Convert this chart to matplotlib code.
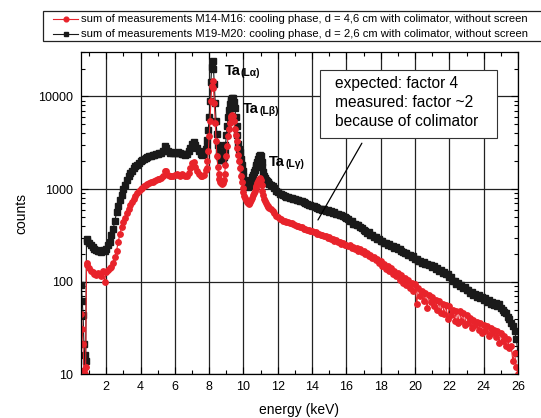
import numpy as np
import matplotlib
matplotlib.use("Agg")
import matplotlib.pyplot as plt
from matplotlib.ticker import MultipleLocator, LogLocator, FuncFormatter, NullFormatter
from matplotlib.patches import Rectangle
from matplotlib.lines import Line2D

plt.rcParams["font.family"] = ["Liberation Sans", "DejaVu Sans"]

# energy grid (keV): coarse channels, finer around the Ta L lines
energy = np.concatenate([
    np.linspace(0.55, 0.85, 7),
    np.linspace(0.9, 7.8, 70),
    np.linspace(7.85, 11.5, 74),
    np.linspace(11.6, 26.0, 145),
])

# M19-M20, d = 2,6 cm (black)
counts_m19 = [
    92, 62, 44, 21, 16, 14, 290,
    # 0.9 - 7.8
    275, 262, 250, 238, 228, 220, 212, 215, 208, 218,
    212, 228, 250, 270, 320, 370, 450, 560, 650, 760,
    870, 990, 1120, 1250, 1370, 1480, 1580, 1680, 1760, 1840,
    1920, 1990, 2060, 2110, 2160, 2210, 2250, 2290, 2320, 2360,
    2380, 2420, 2450, 2480, 2600, 2900, 2750, 2550, 2480, 2500,
    2470, 2450, 2480, 2500, 2460, 2420, 2380, 2350, 2400, 2550,
    2800, 3100, 3250, 3000, 2750, 2550, 2420, 2350, 2400, 2700,
    # 7.85 - 11.5
    2900, 3400, 4300, 6000, 9000, 14500, 21000, 24000, 20000, 13500,
    8500, 5500, 3900, 3000, 2500, 2300, 2150, 2080, 2050, 2050,
    2200, 2500, 3000, 3800, 4800, 6000, 7200, 8200, 9000, 9500,
    9700, 9600, 8800, 7500, 6000, 4800, 3800, 3100, 2700, 2500,
    2100, 1800, 1550, 1380, 1260, 1180, 1120, 1080, 1060, 1070,
    1100, 1170, 1250, 1340, 1430, 1520, 1610, 1720, 1830, 1950,
    2100, 2250, 2350, 2250, 1980, 1720, 1530, 1400, 1310, 1250,
    1210, 1180, 1160, 1140,
    # 11.6 - 26.0
    1120, 1070, 1015, 955, 925, 885, 875, 855, 850, 825,
    825, 805, 810, 785, 780, 765, 765, 745, 740, 725,
    705, 695, 675, 675, 655, 655, 635, 630, 615, 615,
    595, 615, 585, 590, 570, 575, 555, 565, 540, 545,
    525, 530, 510, 505, 485, 475, 455, 450, 425, 425,
    405, 405, 385, 380, 360, 355, 335, 340, 320, 322,
    305, 305, 290, 290, 275, 276, 260, 262, 248, 253,
    242, 243, 233, 235, 225, 225, 212, 210, 202, 203,
    193, 195, 185, 188, 177, 176, 167, 168, 159, 162,
    155, 157, 151, 152, 144, 149, 138, 141, 130, 133,
    125, 127, 120, 122, 113, 112, 103, 101, 95, 97,
    90, 92, 86, 88, 81, 82, 76, 78, 72, 74,
    69, 72, 67, 69, 64, 66, 61, 63, 58, 61,
    56, 59, 55, 57, 52, 50, 47, 46, 42, 40,
    36, 33, 29, 24, 17,
]

# M14-M16, d = 4,6 cm (red)
counts_m14 = [
    45, 31, 21, 11, 10, 12, 158,
    # 0.9 - 7.8
    150, 140, 132, 128, 122, 118, 125, 120, 116, 130,
    100, 128, 135, 140, 145, 160, 185, 215, 270, 330,
    390, 440, 490, 550, 610, 670, 730, 790, 850, 900,
    950, 990, 1030, 1070, 1100, 1130, 1150, 1180, 1200, 1230,
    1250, 1280, 1300, 1330, 1380, 1550, 1580, 1420, 1380, 1400,
    1390, 1420, 1450, 1430, 1400, 1450, 1420, 1380, 1400, 1500,
    1700, 1900, 1950, 1750, 1550, 1450, 1400, 1380, 1420, 1600,
    # 7.85 - 11.5
    1700, 2000, 2600, 3700, 5500, 9000, 13000, 14800, 12500, 8500,
    5200, 3300, 2300, 1750, 1450, 1300, 1200, 1150, 1130, 1150,
    1250, 1450, 1800, 2300, 2900, 3700, 4500, 5200, 5800, 6200,
    6300, 6100, 5400, 4500, 3800, 3300, 2800, 2350, 2000, 1700,
    1400, 1180, 1020, 920, 850, 800, 760, 720, 700, 690,
    700, 720, 760, 810, 860, 910, 960, 1020, 1080, 1150,
    1220, 1290, 1330, 1250, 1100, 960, 860, 790, 740, 700,
    680, 660, 645, 630,
    # 11.6 - 26.0
    615, 575, 550, 510, 498, 478, 470, 452, 450, 436,
    438, 426, 432, 415, 414, 400, 402, 385, 388, 372,
    375, 360, 366, 350, 354, 340, 344, 328, 330, 318,
    322, 308, 315, 300, 302, 288, 292, 276, 282, 266,
    270, 256, 262, 248, 252, 240, 246, 232, 238, 224,
    230, 216, 224, 208, 214, 198, 206, 188, 196, 180,
    186, 172, 178, 160, 166, 148, 156, 138, 146, 130,
    140, 122, 132, 115, 124, 105, 118, 98, 110, 92,
    104, 86, 98, 80, 94, 58, 86, 70, 80, 62,
    76, 52, 72, 60, 68, 54, 64, 50, 62, 46,
    58, 45, 56, 40, 54, 44, 50, 38, 48, 36,
    48, 38, 46, 34, 44, 36, 41, 32, 39, 34,
    37, 30, 36, 28, 34, 29, 33, 26, 32, 28,
    30, 25, 29, 22, 28, 23, 26, 20, 24, 19,
    20, 14, 17, 12, 10,
]

labels = [
    "sum of measurements M14-M16: cooling phase, d = 4,6 cm with colimator, without screen",
    "sum of measurements M19-M20: cooling phase, d = 2,6 cm with colimator, without screen",
]
peaks = [("Lα", 8.92, 17000), ("Lβ", 9.99, 6680), ("Lγ", 11.5, 1766)]
note = "expected: factor 4\nmeasured: factor ~2\nbecause of colimator"

red = "#e8232b"
black = "#1a1a1a"

fig = plt.figure(figsize=(5.41, 4.18), dpi=100)
ax = fig.add_axes([80.5 / 541, 1 - 374.3 / 418, 437.5 / 541, 322 / 418])

ax.plot(energy, counts_m19, color=black, lw=0.8, marker="s", ms=3.7, mec=black, mfc=black)
ax.plot(energy, counts_m14, color=red, lw=0.8, marker="o", ms=3.9, mec=red, mfc=red)

ax.set_yscale("log")
ax.set_xlim(0.5, 26)
ax.set_ylim(10, 30000)
ax.xaxis.set_major_locator(MultipleLocator(2))
ax.xaxis.set_minor_locator(MultipleLocator(1))
ax.yaxis.set_major_locator(LogLocator(base=10, numticks=10))
ax.yaxis.set_minor_locator(LogLocator(base=10, subs=np.arange(2, 10), numticks=20))
ax.yaxis.set_major_formatter(FuncFormatter(lambda v, p: f"{int(round(v))}"))
ax.yaxis.set_minor_formatter(NullFormatter())
ax.tick_params(which="both", direction="in", top=True, right=True, width=0.8, labelsize=9)
ax.tick_params(which="major", length=5, pad=5)
ax.tick_params(which="minor", length=3)
ax.grid(True, which="major", color="#222222", lw=0.9)
for s in ax.spines.values():
    s.set_linewidth(0.9)

ax.set_xlabel("energy (keV)", fontsize=10, labelpad=7)
ax.set_ylabel("counts", fontsize=10, labelpad=7)

for name, x, y in peaks:
    t = ax.text(x, y, "Ta", fontsize=10.5, fontweight="bold", va="baseline", ha="left")
    ax.annotate("(" + name + ")", xy=(1, 0), xycoords=t, fontsize=7.5,
                fontweight="bold", va="bottom", ha="left")

ax.add_patch(Rectangle((0.5474, 0.7339), 0.4046, 0.2111, transform=ax.transAxes,
                       facecolor="white", edgecolor="#333333", lw=0.8, zorder=5))
ax.text(0.5817, 0.925, note, transform=ax.transAxes, fontsize=11.2, va="top",
        ha="left", linespacing=1.33, zorder=6)
ax.annotate("", xy=(14.34, 464), xytext=(16.9, 3130),
            arrowprops=dict(arrowstyle="-", color="black", lw=0.9, shrinkA=0, shrinkB=0))

# legend box, drawn by hand so it runs off the right edge like the original
W, H = 541.0, 418.0
fig.add_artist(Rectangle((42.7 / W, 1 - 41 / H), 520 / W, 30 / H, transform=fig.transFigure,
                         facecolor="white", edgecolor="#222222", lw=0.9))
for i, (lab, col, mk) in enumerate([(labels[0], red, "o"), (labels[1], black, "s")]):
    yy = 1 - (19 + 15 * i) / H
    fig.add_artist(Line2D([53 / W, 78 / W], [yy, yy], transform=fig.transFigure,
                          color=col, lw=0.8))
    fig.add_artist(Line2D([65.5 / W], [yy], transform=fig.transFigure, color=col,
                          marker=mk, ms=3.4, mec=col, mfc=col))
    fig.text(81 / W, yy, lab, fontsize=8.15, va="center", ha="left")

fig.savefig("out.png", dpi=100)
